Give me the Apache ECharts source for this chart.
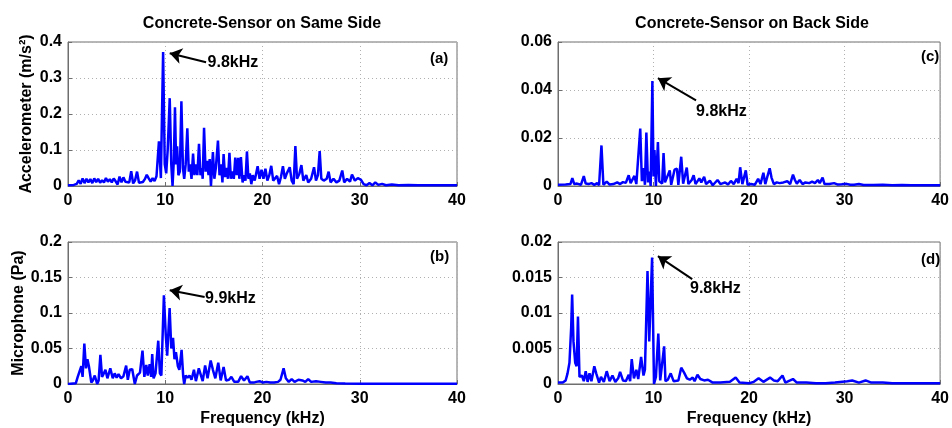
<!DOCTYPE html>
<html>
<head>
<meta charset="utf-8">
<script src="https://cdn.jsdelivr.net/npm/echarts@6/dist/echarts.min.js"></script>
<style>
  html, body { margin: 0; padding: 0; background: #fff; }
  #chart { width: 952px; height: 428px; }
</style>
</head>
<body>
<div id="chart"></div>
<script>
// spectra, [kHz, amplitude]
const accSame = [
  [0,0.002],[0.6,0.003],[0.9,0.006],[1.1,0.016],[1.3,0.006],[1.5,0.021],[1.7,0.008],[1.9,0.02],[2.1,0.01],[2.3,0.019],
  [2.5,0.008],[2.7,0.021],[2.9,0.011],[3.1,0.02],[3.3,0.009],[3.5,0.016],[3.7,0.01],[3.9,0.022],[4.1,0.012],[4.3,0.019],
  [4.5,0.01],[4.7,0.021],[4.9,0.013],[5.1,0.004],[5.3,0.026],[5.5,0.01],[5.7,0.024],[5.9,0.012],[6.1,0.017],[6.3,0.01],
  [6.5,0.041],[6.7,0.007],[6.9,0.016],[7.1,0.04],[7.3,0.009],[7.5,0.014],[7.7,0.011],[7.9,0.019],[8.1,0.031],[8.3,0.021],
  [8.5,0.012],[8.7,0.022],[8.9,0.014],[9.1,0.027],[9.35,0.124],[9.55,0.022],[9.78,0.372],[9.95,0.06],[10.1,0.035],[10.25,0.1],
  [10.46,0.244],[10.62,0.06],[10.75,0.0],[10.88,0.07],[11.0,0.219],[11.12,0.06],[11.22,0.11],[11.35,0.03],[11.5,0.04],[11.66,0.235],
  [11.82,0.05],[11.95,0.02],[12.1,0.06],[12.27,0.16],[12.42,0.04],[12.55,0.06],[12.7,0.02],[12.86,0.09],[13.0,0.03],[13.15,0.06],
  [13.3,0.03],[13.47,0.117],[13.62,0.03],[13.75,0.05],[13.85,0.02],[13.99,0.162],[14.15,0.04],[14.3,0.07],[14.45,0.03],[14.57,0.075],
  [14.7,0.0],[14.9,0.094],[15.05,0.02],[15.2,0.05],[15.42,0.126],[15.58,0.03],[15.75,0.06],[15.88,0.01],[16.0,0.089],[16.15,0.025],
  [16.3,0.05],[16.45,0.02],[16.6,0.092],[16.75,0.02],[16.9,0.04],[17.05,0.02],[17.2,0.079],[17.35,0.03],[17.5,0.078],[17.62,0.02],
  [17.78,0.08],[17.95,0.01],[18.1,0.03],[18.25,0.015],[18.4,0.096],[18.55,0.02],[18.7,0.035],[18.85,0.005],[19.0,0.03],[19.2,0.015],
  [19.5,0.055],[19.7,0.02],[19.9,0.045],[20.1,0.02],[20.3,0.048],[20.5,0.015],[20.7,0.03],[20.9,0.056],[21.1,0.015],[21.3,0.02],
  [21.5,0.028],[21.7,0.005],[21.9,0.025],[22.1,0.055],[22.3,0.02],[22.5,0.035],[22.8,0.052],[23.0,0.015],[23.2,0.005],[23.38,0.111],
  [23.55,0.02],[23.8,0.035],[24.0,0.058],[24.2,0.015],[24.5,0.03],[24.7,0.01],[25.0,0.02],[25.3,0.052],[25.5,0.015],[25.7,0.03],
  [25.88,0.097],[26.05,0.02],[26.3,0.015],[26.6,0.02],[26.8,0.04],[27.0,0.01],[27.3,0.02],[27.6,0.01],[27.9,0.015],[28.2,0.043],
  [28.4,0.01],[28.7,0.02],[29.0,0.012],[29.2,0.032],[29.5,0.015],[29.8,0.022],[30.1,0.018],[30.4,0.005],[30.7,0.002],[31.0,0.008],
  [31.3,0.002],[31.6,0.01],[31.9,0.003],[32.3,0.006],[32.7,0.002],[33.3,0.004],[34,0.002],[35,0.003],[36,0.002],[38,0.002],[40,0.002]
];

const accBack = [
  [0,0.0005],[0.8,0.0006],[1.3,0.0008],[1.5,0.0033],[1.7,0.0008],[2.0,0.001],[2.4,0.0005],[2.7,0.0041],[2.9,0.001],[3.2,0.0008],
  [3.5,0.0012],[3.8,0.0005],[4.1,0.0012],[4.3,0.0003],[4.55,0.0169],[4.75,0.0005],[5.1,0.0018],[5.4,0.0006],[5.8,0.0008],[6.2,0.0015],
  [6.5,0.0008],[6.8,0.0016],[7.1,0.0013],[7.4,0.0045],[7.6,0.0012],[8.0,0.0042],[8.2,0.0008],[8.61,0.0239],[8.78,0.002],[8.95,0.0075],
  [9.1,0.0005],[9.25,0.0223],[9.42,0.0015],[9.55,0.006],[9.7,0.0],[9.88,0.0437],[10.0,0.004],[10.1,0.015],[10.25,0.0],[10.46,0.0183],
  [10.6,0.002],[10.75,0.0025],[10.9,0.001],[11.05,0.0137],[11.2,0.0015],[11.4,0.0012],[11.7,0.0065],[11.85,0.0005],[12.2,0.0068],[12.45,0.0072],
  [12.6,0.0005],[12.9,0.0122],[13.1,0.001],[13.3,0.0015],[13.48,0.0077],[13.65,0.0008],[14.0,0.0025],[14.2,0.0045],[14.4,0.0008],[14.8,0.0032],
  [15.0,0.0015],[15.3,0.0038],[15.5,0.0008],[15.9,0.0022],[16.2,0.0003],[16.7,0.0025],[17.0,0.0008],[17.5,0.0015],[17.8,0.0006],[18.1,0.0021],
  [18.4,0.0008],[18.7,0.003],[18.9,0.0012],[19.07,0.0078],[19.3,0.0008],[19.66,0.0065],[19.85,0.0005],[20.2,0.0008],[20.6,0.0005],[20.95,0.003],
  [21.2,0.0008],[21.5,0.0055],[21.7,0.0008],[22.16,0.0074],[22.35,0.0035],[22.6,0.0008],[22.9,0.0015],[23.2,0.0012],[23.6,0.0015],[24.0,0.002],
  [24.3,0.0008],[24.6,0.0047],[24.8,0.0025],[25.0,0.001],[25.3,0.0025],[25.6,0.0008],[25.9,0.0015],[26.3,0.0012],[26.6,0.0018],[26.9,0.0012],
  [27.2,0.0025],[27.4,0.0012],[27.7,0.0035],[27.9,0.0008],[28.4,0.0008],[28.9,0.0012],[29.3,0.0006],[29.7,0.0007],[30.2,0.0009],[30.6,0.0005],
  [31.0,0.0005],[31.5,0.0008],[32,0.0004],[33,0.0004],[34,0.0005],[35,0.0003],[36,0.0004],[37,0.0003],[38,0.0003],[40,0.0003]
];

const micSame = [
  [0,0.0],[0.8,0.001],[1.0,0.01],[1.2,0.008],[1.37,0.025],[1.5,0.01],[1.68,0.057],[1.85,0.022],[2.0,0.035],[2.15,0.025],
  [2.4,0.002],[2.55,0.005],[2.75,0.012],[3.0,0.0],[3.15,0.005],[3.33,0.041],[3.5,0.01],[3.65,0.014],[3.85,0.02],[4.05,0.008],
  [4.35,0.022],[4.6,0.008],[4.8,0.015],[5.0,0.009],[5.2,0.014],[5.45,0.008],[5.7,0.011],[5.98,0.026],[6.15,0.006],[6.35,0.02],
  [6.6,0.021],[6.87,0.0],[7.1,0.012],[7.4,0.016],[7.66,0.047],[7.85,0.01],[8.05,0.027],[8.2,0.012],[8.4,0.028],[8.55,0.01],
  [8.66,0.042],[8.8,0.008],[9.0,0.015],[9.1,0.014],[9.28,0.061],[9.45,0.015],[9.6,0.012],[9.86,0.125],[10.05,0.07],[10.2,0.04],
  [10.45,0.107],[10.62,0.05],[10.8,0.065],[10.95,0.035],[11.1,0.045],[11.3,0.025],[11.45,0.02],[11.68,0.048],[11.85,0.01],[11.95,0.0],
  [12.1,0.012],[12.3,0.009],[12.5,0.012],[12.7,0.006],[12.95,0.02],[13.15,0.004],[13.45,0.022],[13.65,0.024],[13.85,0.004],[14.1,0.026],
  [14.35,0.008],[14.67,0.033],[14.9,0.02],[15.15,0.008],[15.45,0.03],[15.7,0.005],[16.0,0.024],[16.25,0.005],[16.55,0.006],[16.8,0.01],
  [17.1,0.003],[17.5,0.003],[17.8,0.011],[18.1,0.005],[18.45,0.011],[18.7,0.002],[19.1,0.002],[19.35,0.003],[19.7,0.004],[20.05,0.002],
  [20.4,0.003],[20.8,0.002],[21.2,0.002],[21.6,0.003],[21.85,0.006],[22.17,0.022],[22.4,0.008],[22.7,0.003],[23.0,0.007],[23.3,0.003],
  [23.7,0.006],[24.1,0.005],[24.4,0.003],[24.7,0.007],[25.0,0.003],[25.5,0.004],[26.0,0.003],[26.5,0.002],[27.0,0.002],[27.6,0.001],
  [28.5,0.0007],[30,0.0003],[32,0.0002],[40,0.0002]
];

const micBack = [
  [0,0.0002],[0.5,0.0002],[0.8,0.0005],[1.0,0.0015],[1.2,0.003],[1.38,0.008],[1.48,0.0126],[1.62,0.006],[1.8,0.003],[1.95,0.0025],
  [2.09,0.0095],[2.25,0.001],[2.5,0.0012],[2.7,0.0004],[2.9,0.0018],[3.1,0.0003],[3.3,0.0015],[3.5,0.0004],[3.8,0.0025],[4.0,0.0015],
  [4.3,0.0002],[4.5,0.001],[4.8,0.0003],[5.1,0.0018],[5.4,0.0004],[5.7,0.0012],[6.0,0.0003],[6.3,0.0008],[6.5,0.0017],[6.8,0.0005],
  [7.1,0.0004],[7.4,0.0013],[7.55,0.0004],[7.72,0.0035],[7.95,0.0008],[8.2,0.002],[8.4,0.0007],[8.7,0.0038],[8.95,0.0012],[9.1,0.002],
  [9.37,0.0159],[9.55,0.006],[9.85,0.0178],[10.05,0.0],[10.25,0.001],[10.5,0.0071],[10.7,0.0005],[11.11,0.0053],[11.25,0.0004],[11.5,0.0006],
  [11.8,0.0015],[12.1,0.0004],[12.6,0.0005],[12.9,0.0023],[13.2,0.0016],[13.5,0.0008],[13.8,0.0006],[14.1,0.0009],[14.3,0.0004],[14.6,0.0013],
  [14.9,0.0007],[15.3,0.0005],[15.7,0.0006],[16.2,0.0002],[17,0.0002],[18.0,0.0003],[18.6,0.0009],[19.0,0.0002],[20,0.0001],[20.5,0.0003],
  [21.0,0.0008],[21.5,0.0003],[22.2,0.0009],[22.6,0.0005],[23.0,0.0004],[23.5,0.0012],[23.8,0.0002],[24.3,0.0005],[24.6,0.0007],[25.0,0.0002],
  [26,0.0002],[27,0.0001],[28,0.0001],[29,0.0002],[30.3,0.0004],[30.8,0.0005],[31.5,0.0002],[32.2,0.0005],[32.8,0.0002],[34,0.0002],
  [35,0.0001],[40,0.0001]
];

const xTicks = { min: 0, max: 40, interval: 10 };
const yMax = [0.4, 0.06, 0.2, 0.02];
const yStep = [0.1, 0.02, 0.05, 0.005];
const panelTitles = ['Concrete-Sensor on Same Side', 'Concrete-Sensor on Back Side'];
const panelTags = ['(a)', '(c)', '(b)', '(d)'];
const peakNotes = ['9.8kHz', '9.8kHz', '9.9kHz', '9.8kHz'];
// arrow tail, arrow head and text anchor, in data units
const arrows = [
  { from: [14.2, 0.344], to: [10.46, 0.369], text: [14.35, 0.344] },
  { from: [14.45, 0.0357], to: [10.46, 0.0449], text: [14.45, 0.0308] },
  { from: [14.05, 0.1226], to: [10.46, 0.132], text: [14.1, 0.1205] },
  { from: [14.05, 0.01476], to: [10.46, 0.018], text: [13.82, 0.0135] }
];

const FONT = '"Liberation Sans", Arial, sans-serif';
const boxes = [
  { left: 68, top: 42 },
  { left: 558, top: 42 },
  { left: 68, top: 242 },
  { left: 558, top: 242 }
];
const seriesData = [accSame, accBack, micSame, micBack];

let grid = [], xAxis = [], yAxis = [], series = [];
boxes.forEach(function (b, i) {
  grid.push({
    left: b.left, top: b.top, width: 389, height: 144,
    show: true, borderColor: '#6e6e6e', borderWidth: 1, backgroundColor: '#fff'
  });
  xAxis.push({
    gridIndex: i, type: 'value',
    min: xTicks.min, max: xTicks.max, interval: xTicks.interval,
    name: i >= 2 ? 'Frequency (kHz)' : '',
    nameLocation: 'middle', nameGap: 27,
    nameTextStyle: { color: '#000', fontWeight: 'bold', fontSize: 16, fontFamily: FONT },
    axisLine: { lineStyle: { color: '#6e6e6e' } },
    axisTick: { inside: true, length: 4, lineStyle: { color: '#6e6e6e' } },
    axisLabel: { color: '#000', fontWeight: 'bold', fontSize: 16, fontFamily: FONT, margin: 7 },
    splitLine: { show: true, lineStyle: { color: '#b0b0b0', type: [1, 3] } }
  });
  yAxis.push({
    gridIndex: i, type: 'value',
    min: 0, max: yMax[i], interval: yStep[i],
    name: i === 0 ? 'Accelerometer (m/s²)' : (i === 2 ? 'Microphone (Pa)' : ''),
    nameLocation: 'middle', nameGap: 33,
    nameTextStyle: { color: '#000', fontWeight: 'bold', fontSize: 16, fontFamily: FONT },
    axisLine: { show: true, lineStyle: { color: '#6e6e6e' } },
    axisTick: { show: true, inside: true, length: 4, lineStyle: { color: '#6e6e6e' } },
    axisLabel: { color: '#000', fontWeight: 'bold', fontSize: 16, fontFamily: FONT, margin: 6 },
    splitLine: { show: true, lineStyle: { color: '#b0b0b0', type: [1, 3] } }
  });
  const a = arrows[i];
  series.push({
    type: 'line',
    xAxisIndex: i, yAxisIndex: i,
    data: seriesData[i],
    showSymbol: false,
    symbol: 'none',
    animation: false,
    lineStyle: { color: '#0000ff', width: 2.5 },
    markLine: {
      silent: true, animation: false,
      symbol: ['none', 'arrow'], symbolSize: 12,
      label: { show: false },
      lineStyle: { color: '#000', width: 2, type: 'solid' },
      data: [[{ coord: a.from }, { coord: a.to }]]
    },
    markPoint: {
      silent: true, animation: false,
      symbol: 'circle', symbolSize: 0,
      label: {
        show: true, position: 'right', distance: 0,
        color: '#000', fontWeight: 'bold', fontSize: 16, fontFamily: FONT,
        formatter: peakNotes[i]
      },
      data: [{ coord: a.text }]
    }
  });
});

const titles = [
  { text: panelTitles[0], left: 262, top: 16, textAlign: 'center' },
  { text: panelTitles[1], left: 752, top: 16, textAlign: 'center' },
  { text: panelTags[0], left: 430, top: 51 },
  { text: panelTags[1], left: 921, top: 49 },
  { text: panelTags[2], left: 430, top: 249 },
  { text: panelTags[3], left: 921, top: 252 }
].map(function (t, k) {
  t.textStyle = { color: '#000', fontWeight: 'bold', fontSize: k < 2 ? 16 : 15, fontFamily: FONT };
  t.padding = 0;
  return t;
});

const chart = echarts.init(document.getElementById('chart'));
chart.setOption({
  backgroundColor: '#fff',
  animation: false,
  title: titles,
  grid: grid,
  xAxis: xAxis,
  yAxis: yAxis,
  series: series
});
</script>
</body>
</html>
